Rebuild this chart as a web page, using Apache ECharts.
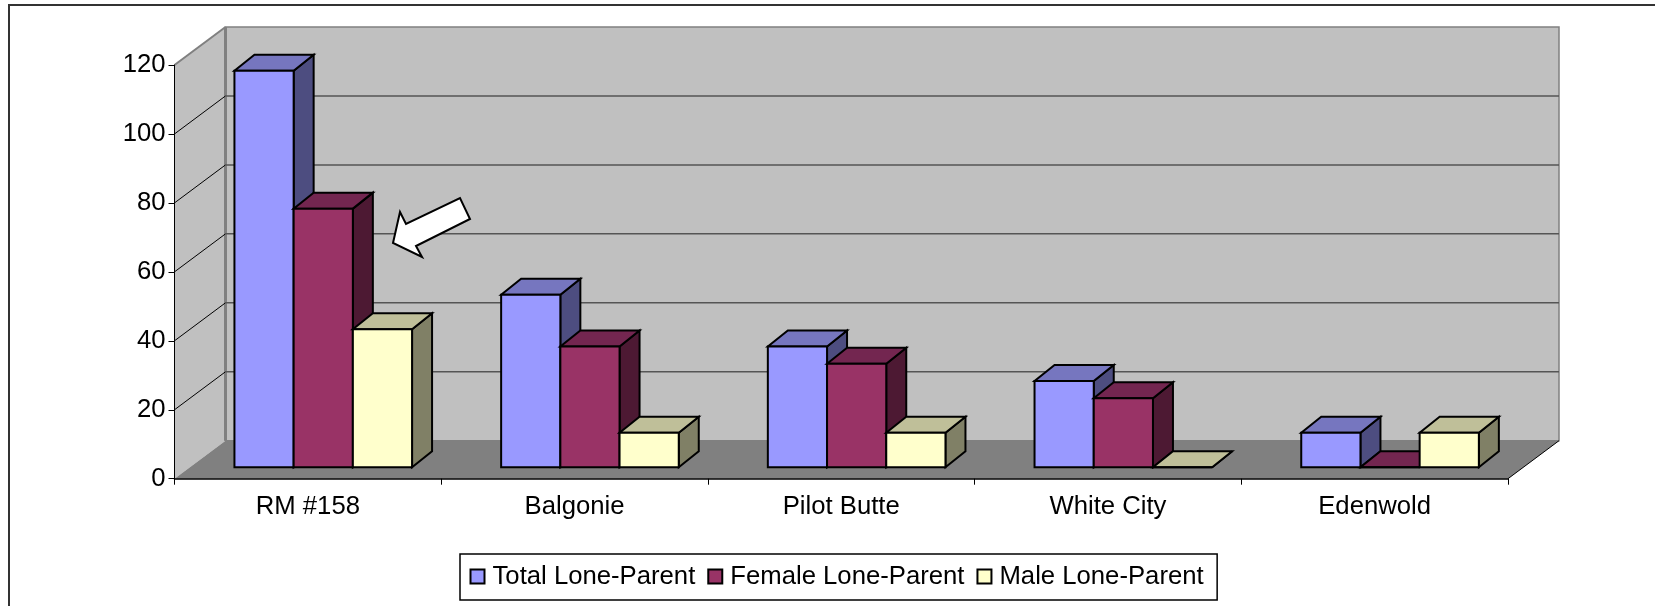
<!DOCTYPE html>
<html>
<head>
<meta charset="utf-8">
<style>
  html, body { margin: 0; padding: 0; background: #fff; }
  #chart { width: 1655px; height: 606px; }
</style>
<script src="https://cdn.jsdelivr.net/npm/echarts@6/dist/echarts.min.js"></script>
</head>
<body>
<div id="chart"></div>
<script>
const categories = ['RM #158', 'Balgonie', 'Pilot Butte', 'White City', 'Edenwold']
const totalLoneParent = [115, 50, 35, 25, 10]
const femaleLoneParent = [75, 35, 30, 20, 0]
const maleLoneParent = [40, 10, 10, 0, 10]
const yTicks = [0, 20, 40, 60, 80, 100, 120]

const FONT = '"Liberation Sans", Arial, sans-serif'
const FONT_SIZE = 25.7
// fake 3d offsets, px
const wallDx = 51
const wallDy = -38
const barDx = 15.4
const barDy = -11.5
const depthDx = 20
const depthDy = -16
const barBand = 0.222

function backdrop (params, api) {
  const band = api.size([1, 0])[0]
  const o = api.coord([0, 0])
  const t = api.coord([0, 120])
  const r = api.coord([categories.length - 1, 0])
  o[0] -= band / 2
  t[0] -= band / 2
  r[0] += band / 2
  const line = { stroke: '#808080', lineWidth: 2 }
  return {
    type: 'group',
    children: [
      { type: 'polygon', shape: { points: [t, [t[0] + wallDx, t[1] + wallDy], [o[0] + wallDx, o[1] + wallDy], o] }, style: { fill: '#C0C0C0' } },
      { type: 'polygon', shape: { points: [[t[0] + wallDx, t[1] + wallDy], [r[0] + wallDx, t[1] + wallDy], [r[0] + wallDx, r[1] + wallDy], [o[0] + wallDx, o[1] + wallDy]] }, style: { fill: '#C0C0C0', stroke: '#808080', lineWidth: 1.5 } },
      { type: 'polygon', shape: { points: [o, [o[0] + wallDx, o[1] + wallDy], [r[0] + wallDx, r[1] + wallDy], r] }, style: { fill: '#808080' } },
      { type: 'line', shape: { x1: t[0], y1: t[1], x2: t[0] + wallDx, y2: t[1] + wallDy }, style: line },
      { type: 'line', shape: { x1: o[0] + wallDx, y1: o[1] + wallDy, x2: t[0] + wallDx, y2: t[1] + wallDy }, style: { stroke: '#808080', lineWidth: 3 } },
      { type: 'line', shape: { x1: r[0], y1: r[1], x2: r[0] + wallDx, y2: r[1] + wallDy }, style: { stroke: '#000', lineWidth: 1 } }
    ]
  }
}

function gridLine (params, api) {
  const band = api.size([1, 0])[0]
  const p = api.coord([0, api.value(1)])
  const r = api.coord([categories.length - 1, api.value(1)])
  p[0] -= band / 2
  r[0] += band / 2
  const children = []
  if (api.value(1) > 0 && api.value(1) < 120) {
    children.push({ type: 'line', shape: { x1: p[0], y1: p[1], x2: p[0] + wallDx, y2: p[1] + wallDy }, style: { stroke: '#000', lineWidth: 1 } })
    children.push({ type: 'line', shape: { x1: p[0] + wallDx, y1: p[1] + wallDy, x2: r[0] + wallDx, y2: r[1] + wallDy }, style: { stroke: '#555', lineWidth: 1.5 } })
  }
  return { type: 'group', children }
}

function makeBar (seriesIndex, front, top, side) {
  return function (params, api) {
    const base = api.coord([api.value(0), 0])
    const head = api.coord([api.value(0), api.value(1)])
    const w = api.size([1, 0])[0] * barBand
    const x0 = base[0] - w * 1.5 + w * seriesIndex + barDx
    const x1 = x0 + w
    const y0 = base[1] + barDy
    const y1 = head[1] + barDy
    const style = f => ({ fill: f, stroke: '#000', lineWidth: 2, lineJoin: 'miter' })
    const children = [
      { type: 'polygon', shape: { points: [[x1, y0], [x1 + depthDx, y0 + depthDy], [x1 + depthDx, y1 + depthDy], [x1, y1]] }, style: style(side) },
      { type: 'polygon', shape: { points: [[x0, y1], [x1, y1], [x1 + depthDx, y1 + depthDy], [x0 + depthDx, y1 + depthDy]] }, style: style(top) }
    ]
    children.push({ type: 'rect', shape: { x: x0, y: y1, width: w, height: y0 - y1 }, style: style(front) })
    return { type: 'group', children }
  }
}

function barSeries (name, idx, values, front, top, side) {
  return {
    name,
    type: 'custom',
    coordinateSystem: 'cartesian2d',
    renderItem: makeBar(idx, front, top, side),
    encode: { x: 0, y: 1 },
    data: values.map((v, i) => [i, v]),
    itemStyle: { color: front, borderColor: '#000', borderWidth: 1.5 },
    z: 5
  }
}

const option = {
  animation: false,
  backgroundColor: '#fff',
  textStyle: { fontFamily: FONT },
  grid: { left: 174.5, top: 65, width: 1333.5, height: 413.7, containLabel: false },
  legend: {
    data: ['Total Lone-Parent', 'Female Lone-Parent', 'Male Lone-Parent'],
    left: 460,
    top: 554,
    padding: [8, 13.5, 9, 9.5],
    itemGap: 12,
    itemWidth: 14,
    itemHeight: 14,
    icon: 'rect',
    borderColor: '#000',
    borderWidth: 1.5,
    textStyle: { fontSize: FONT_SIZE, color: '#000', fontFamily: FONT, padding: [0, 0, 0, 3], lineHeight: 29 }
  },
  graphic: [
    { type: 'polyline', z: 0, shape: { points: [[9, 640], [9, 5], [1655, 5]] }, style: { fill: 'none', stroke: '#333', lineWidth: 2 } },
    {
      // callout arrow pointing at the female bar
      type: 'polygon',
      z: 100,
      shape: { points: [[393, 243], [400, 212], [406, 224], [460, 198], [470, 219], [416, 246], [422, 257]] },
      style: { fill: '#fff', stroke: '#000', lineWidth: 2 }
    }
  ],
  xAxis: {
    type: 'category',
    data: categories,
    z: 10,
    axisLine: { lineStyle: { color: '#000', width: 1.5 } },
    axisTick: { show: true, alignWithLabel: false, length: 6, lineStyle: { color: '#000', width: 1 } },
    axisLabel: { fontSize: FONT_SIZE, color: '#000', fontFamily: FONT, margin: 15, interval: 0 },
    splitLine: { show: false }
  },
  yAxis: {
    type: 'value',
    min: 0,
    max: 120,
    interval: 20,
    z: 10,
    axisLine: { show: true, lineStyle: { color: '#000', width: 1 } },
    axisTick: { show: true, length: 6, lineStyle: { color: '#000', width: 1 } },
    axisLabel: { fontSize: FONT_SIZE, color: '#000', fontFamily: FONT, margin: 9 },
    splitLine: { show: false }
  },
  series: [
    { type: 'custom', name: 'backdrop', renderItem: backdrop, data: [[0, 0]], encode: { x: 0, y: 1 }, z: 1, silent: true },
    { type: 'custom', name: 'gridlines', renderItem: gridLine, data: yTicks.map(v => [0, v]), encode: { x: 0, y: 1 }, z: 2, silent: true },
    barSeries('Total Lone-Parent', 0, totalLoneParent, '#9999FF', '#7676BF', '#4D4D80'),
    barSeries('Female Lone-Parent', 1, femaleLoneParent, '#993366', '#732650', '#4D1933'),
    barSeries('Male Lone-Parent', 2, maleLoneParent, '#FFFFCC', '#BFBF99', '#808066')
  ]
}

const myChart = echarts.init(document.getElementById('chart'))
myChart.setOption(option)
</script>
</body>
</html>
